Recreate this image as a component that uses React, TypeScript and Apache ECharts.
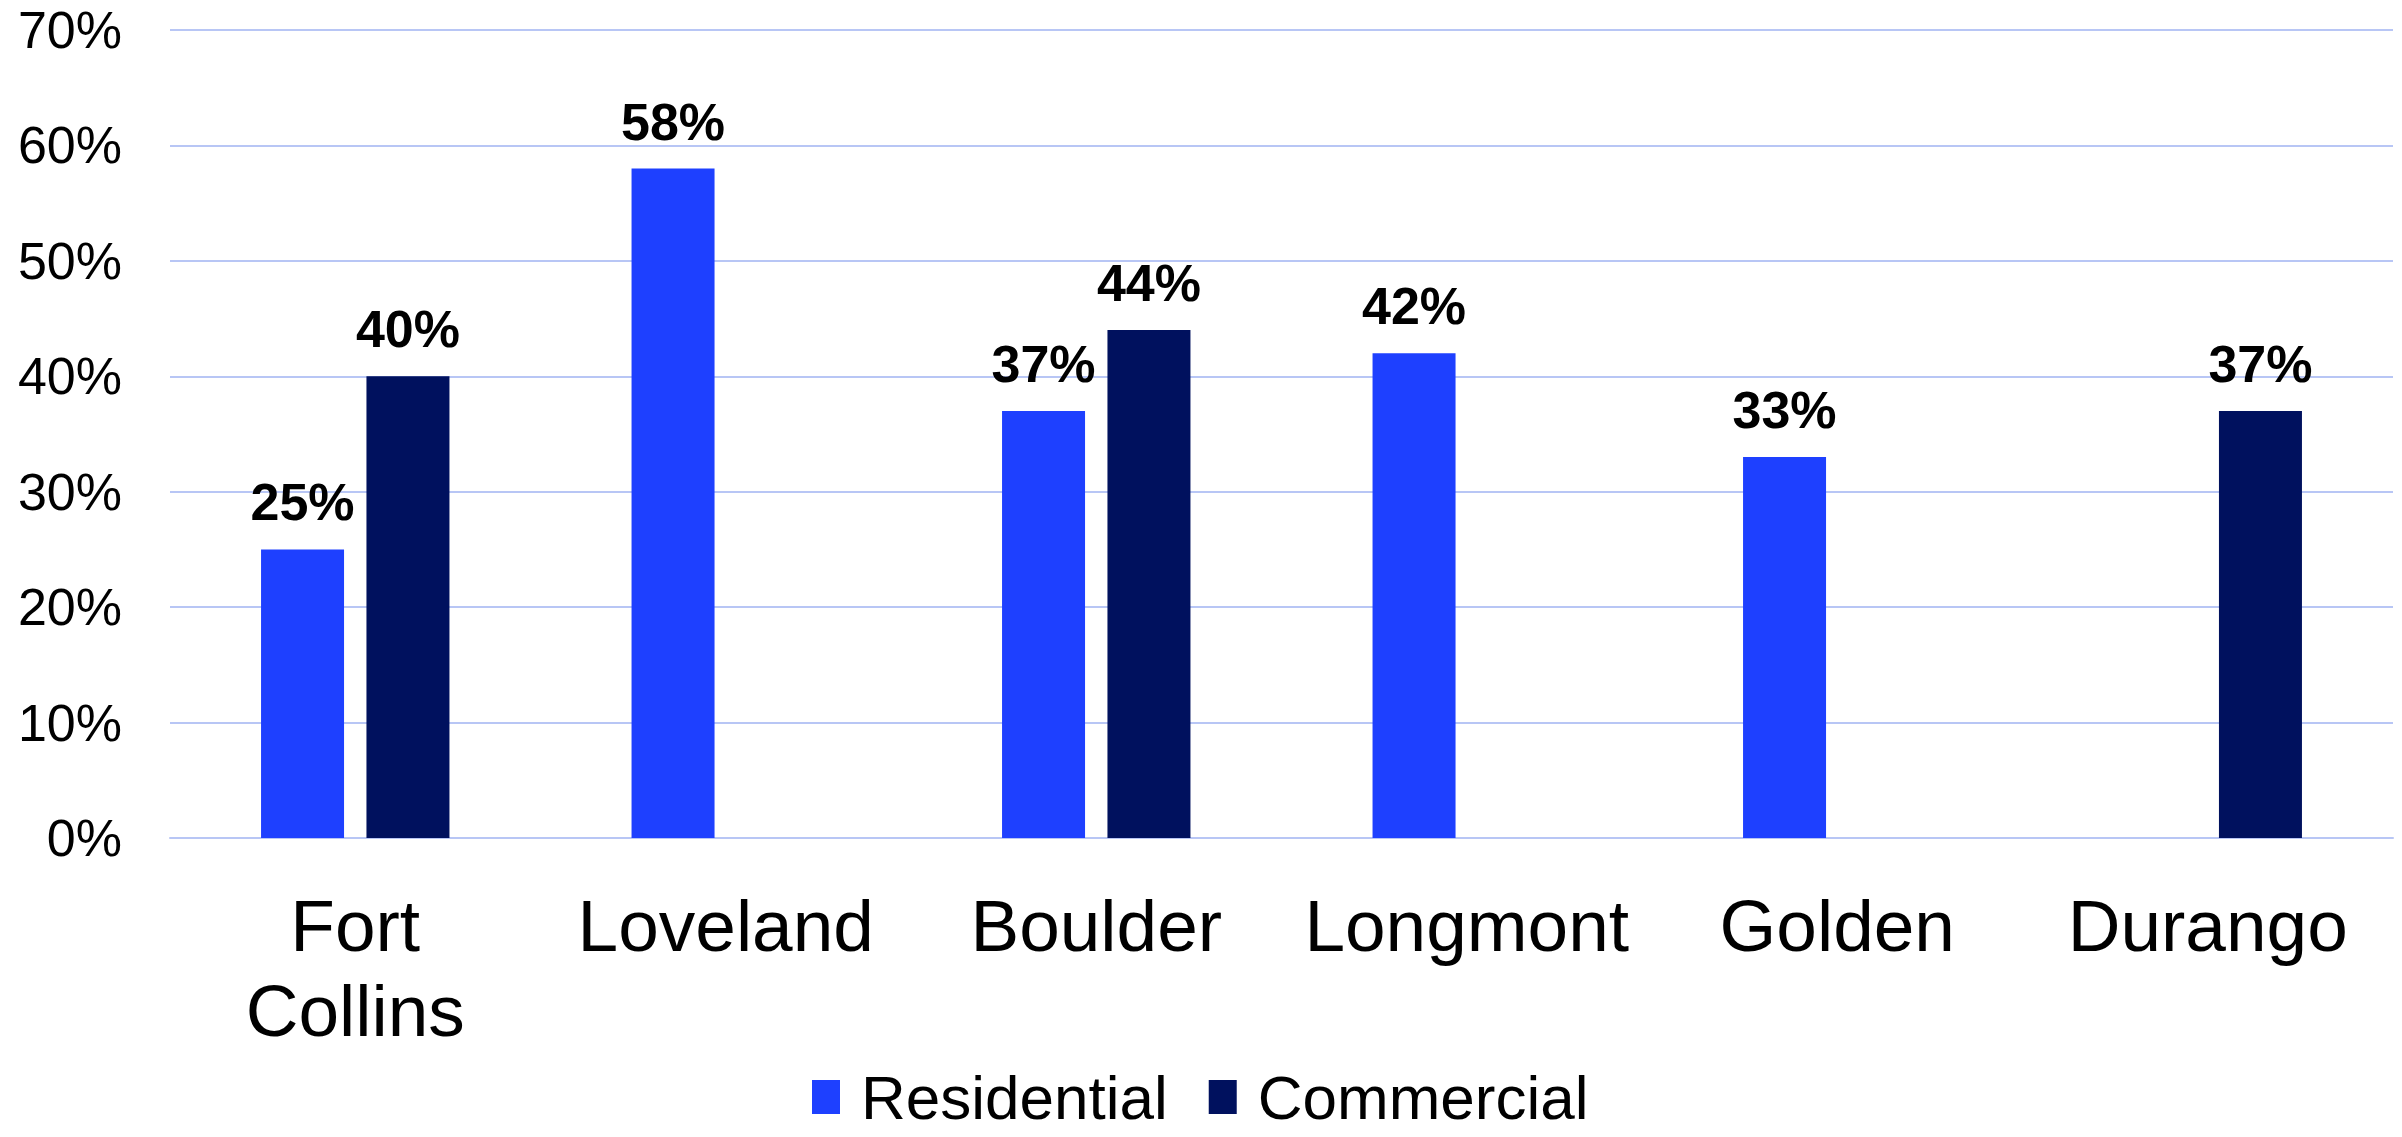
import React, { useEffect, useRef } from "react";
import * as echarts from "echarts";

const categories = ["Fort\nCollins", "Loveland", "Boulder", "Longmont", "Golden", "Durango"];
const residential = [25, 58, 37, 42, 33, null];
const commercial = [40, null, 44, null, null, 37];
const seriesNames = ["Residential", "Commercial"];
const yTicks = { min: 0, max: 70, interval: 10 };

const FONT = "'Liberation Sans', Arial, sans-serif";
const RES_COLOR = "#1E40FF";
const COM_COLOR = "#00115E";
const GRID_COLOR = "#B8C6F5";

export default function App() {
  const ref = useRef<HTMLDivElement>(null);
  useEffect(() => {
    if (!ref.current) return;
    const chart = echarts.init(ref.current, null, { renderer: "svg" });
    const label = {
      show: true,
      position: "top",
      distance: 21,
      color: "#000",
      fontSize: 52,
      fontWeight: "bold",
      fontFamily: FONT,
      formatter: (p: any) => `${p.value}%`,
    };
    chart.setOption({
      animation: false,
      textStyle: { fontFamily: FONT },
      grid: { left: 170, right: 9, top: 30, bottom: 1137 - 838, containLabel: false },
      legend: {
        left: 812,
        top: 1066,
        padding: 0,
        icon: "rect",
        itemWidth: 28,
        itemHeight: 34,
        itemGap: 41,
        textStyle: { fontSize: 62, lineHeight: 62, color: "#000", fontFamily: FONT, padding: [0, 0, 0, 16] },
        data: seriesNames,
      },
      xAxis: {
        type: "category",
        data: categories,
        axisLine: { show: true, lineStyle: { color: GRID_COLOR, width: 2 } },
        axisTick: { show: false },
        axisLabel: { interval: 0, color: "#000", fontSize: 73, lineHeight: 85, margin: 45, fontFamily: FONT },
      },
      yAxis: {
        type: "value",
        min: yTicks.min,
        max: yTicks.max,
        interval: yTicks.interval,
        axisLine: { show: false },
        axisTick: { show: false },
        splitLine: { lineStyle: { color: GRID_COLOR, width: 2 } },
        axisLabel: { color: "#000", fontSize: 52, margin: 48, fontFamily: FONT, formatter: "{value}%" },
      },
      series: [
        {
          name: seriesNames[0],
          type: "bar",
          data: residential,
          itemStyle: { color: RES_COLOR },
          barWidth: 83,
          barGap: "27%",
          label,
        },
        {
          name: seriesNames[1],
          type: "bar",
          data: commercial,
          itemStyle: { color: COM_COLOR },
          barWidth: 83,
          barGap: "27%",
          label,
        },
      ],
    });
    return () => chart.dispose();
  }, []);
  return (
    <div
      ref={ref}
      style={{ position: "absolute", left: 0, top: 0, width: 2402, height: 1137, background: "#fff" }}
    />
  );
}
